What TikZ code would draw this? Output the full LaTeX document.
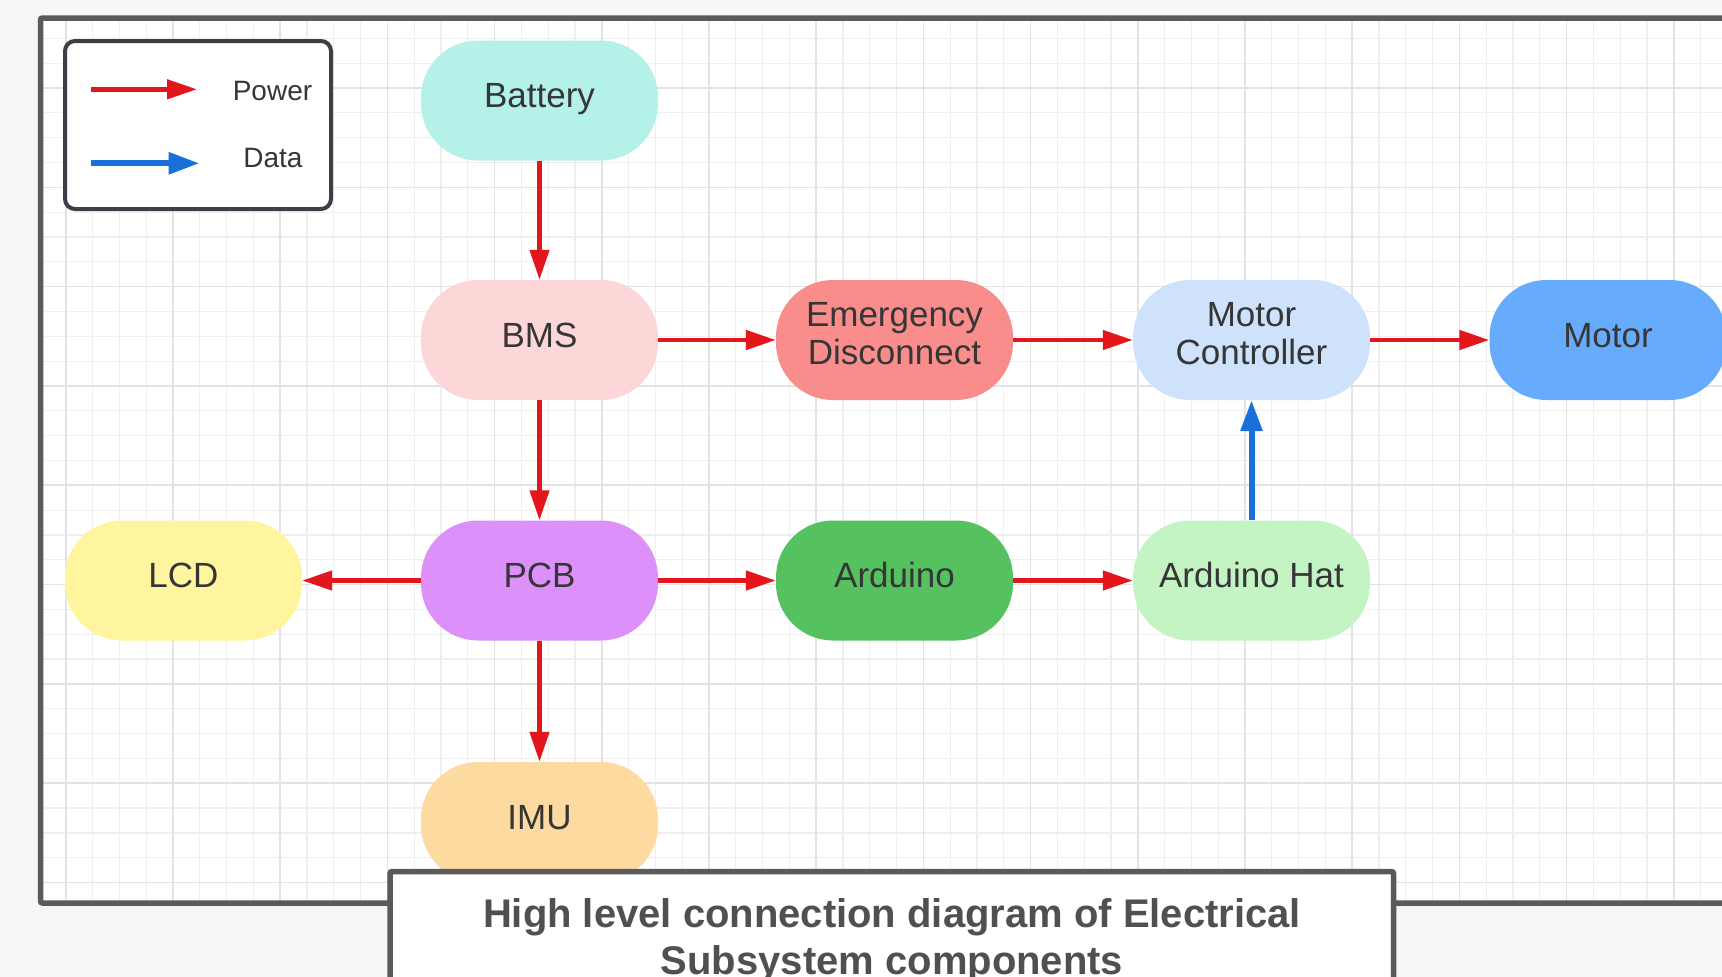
\documentclass[tikz,border=0pt]{standalone}
\usepackage{fontspec}
\setmainfont{Liberation Sans}
\usetikzlibrary{arrows.meta}
\definecolor{bg}{HTML}{F6F6F6}
\definecolor{frame}{HTML}{5A5A5A}
\definecolor{legbd}{HTML}{3C3F46}
\definecolor{gridminor}{HTML}{EFEFEF}
\definecolor{gridmajor}{HTML}{E3E3E3}
\definecolor{txt}{HTML}{363636}
\definecolor{captxt}{HTML}{505050}
\definecolor{pwr}{HTML}{E3161B}
\definecolor{dat}{HTML}{1870D8}
\definecolor{cBattery}{HTML}{B3F1E9}
\definecolor{cBMS}{HTML}{FDD7D8}
\definecolor{cED}{HTML}{F98D8C}
\definecolor{cMC}{HTML}{CFE2FC}
\definecolor{cMotor}{HTML}{67ABFC}
\definecolor{cLCD}{HTML}{FFF59E}
\definecolor{cPCB}{HTML}{DD8FFA}
\definecolor{cArd}{HTML}{55C25F}
\definecolor{cHat}{HTML}{C4F4C4}
\definecolor{cIMU}{HTML}{FDDBA0}
\begin{document}
\begin{tikzpicture}[x=1pt,y=-1pt,
  comp/.style={rounded corners=57pt, minimum width=237pt, minimum height=120pt,
    inner sep=0pt, align=center, text=txt, font=\fontsize{35}{38.5}\selectfont},
  oneline/.style={comp, text height=24pt, text depth=9.5pt},
  twoline/.style={comp, text depth=13.5pt},
  pw/.style={draw=pwr, line width=4.5pt, -{Triangle[length=30pt,width=19pt]}},
  dt/.style={draw=dat, line width=6pt, -{Triangle[length=31pt,width=21pt]}},
  gmin/.style={draw=gridminor, line width=1.2pt},
  gmaj/.style={draw=gridmajor, line width=1.6pt},
  legtxt/.style={text=txt, font=\fontsize{28}{32}\selectfont, inner sep=0pt, anchor=base}]
\useasboundingbox (0,0) rectangle (1722,977);
\fill[bg] (0,0) rectangle (1722,977);
\fill[white] (40.5,18) rectangle (1740,903);
% grid
\begin{scope}
  \clip (43,21) rectangle (1722,900);
  \foreach \k in {-5,...,58} {
    \pgfmathsetmacro\xx{173+26.8*\k}
    \draw[gmin] (\xx,0) -- (\xx,977);
  }
  \foreach \k in {-4,...,34} {
    \pgfmathsetmacro\yy{88+24.83*\k}
    \draw[gmin] (0,\yy) -- (1722,\yy);
  }
  \foreach \k in {-1,...,14} {
    \pgfmathsetmacro\xx{173+107.2*\k}
    \draw[gmaj] (\xx,0) -- (\xx,977);
  }
  \foreach \k in {-1,...,9} {
    \pgfmathsetmacro\yy{88+99.32*\k}
    \draw[gmaj] (0,\yy) -- (1722,\yy);
  }
\end{scope}
% outer frame
\draw[frame, line width=5.5pt, rounded corners=2pt] (40.5,18) rectangle (1745,903);
% components
\node[oneline, fill=cBattery] (bat) at (539.5,100.5) {Battery};
\node[oneline, fill=cBMS] (bms) at (539.5,340) {BMS};
\node[twoline, fill=cED] (ed) at (894.5,340) {Emergency\\Disconnect};
\node[twoline, fill=cMC] (mc) at (1251.5,340) {Motor\\Controller};
\node[oneline, fill=cMotor] (mot) at (1608,340) {Motor};
\node[oneline, fill=cLCD] (lcd) at (183.5,580.5) {LCD};
\node[oneline, fill=cPCB] (pcb) at (539.5,580.5) {PCB};
\node[oneline, fill=cArd] (ard) at (894.5,580.5) {Arduino};
\node[oneline, fill=cHat] (hat) at (1251.5,580.5) {Arduino Hat};
\node[oneline, fill=cIMU] (imu) at (539.5,822) {IMU};
% connectors
\draw[pw] (bat) -- (bms);
\draw[pw] (bms) -- (ed);
\draw[pw] (ed) -- (mc);
\draw[pw] (mc) -- (mot);
\draw[pw] (bms) -- (pcb);
\draw[pw] (pcb) -- (lcd);
\draw[pw] (pcb) -- (ard);
\draw[pw] (ard) -- (hat);
\draw[pw] (pcb) -- (imu);
\draw[dt] (hat) -- (mc);
% legend
\node[draw=legbd, line width=4pt, rounded corners=10pt, fill=white,
  minimum width=266pt, minimum height=168pt, inner sep=0pt] (legend) at (198,125) {};
\coordinate (p1) at (91,89.3);
\coordinate (p2) at (197,89.3);
\coordinate (d1) at (91,163.3);
\coordinate (d2) at (199.5,163.3);
\draw[pw] (p1) -- (p2);
\draw[dt] (d1) -- (d2);
\node[legtxt] (ptxt) at (272.5,100.7) {Power};
\node[legtxt] (dtxt) at (273,167) {Data};
% caption
\draw[frame, line width=5.5pt, fill=white, rounded corners=2pt] (390,871.5) rectangle (1393.5,1010);
\node[text=captxt, font=\bfseries\fontsize{40}{47}\selectfont, align=center, inner sep=0pt,
  anchor=base] (cap1) at (892,927) {High level connection diagram of Electrical};
\node[text=captxt, font=\bfseries\fontsize{40}{47}\selectfont, align=center, inner sep=0pt,
  anchor=base] (cap2) at (892,974) {Subsystem components};
\end{tikzpicture}
\end{document}
